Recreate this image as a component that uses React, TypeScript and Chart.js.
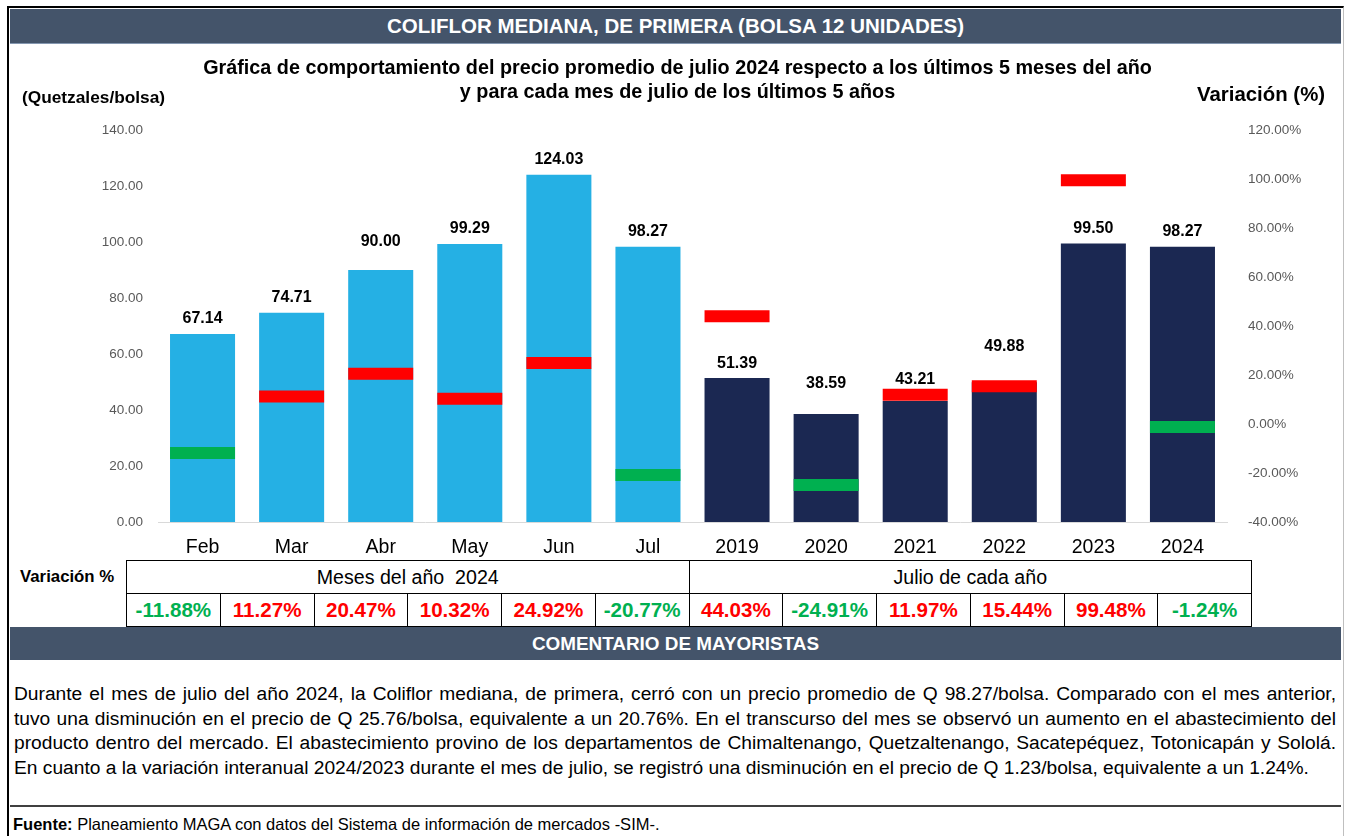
import React, { useEffect, useRef } from 'react';
import { Chart, registerables } from 'chart.js';

Chart.register(...registerables);

// ---------- DATA ----------
const categories = ['Feb', 'Mar', 'Abr', 'May', 'Jun', 'Jul', '2019', '2020', '2021', '2022', '2023', '2024'];
const prices = [67.14, 74.71, 90.0, 99.29, 124.03, 98.27, 51.39, 38.59, 43.21, 49.88, 99.5, 98.27];
const variations = [-11.88, 11.27, 20.47, 10.32, 24.92, -20.77, 44.03, -24.91, 11.97, 15.44, 99.48, -1.24];
const categoryGroup = ['mes', 'mes', 'mes', 'mes', 'mes', 'mes', 'julio', 'julio', 'julio', 'julio', 'julio', 'julio'];
const groupLabels = ['Meses del año  2024', 'Julio de cada año'];
const priceAxis = [0, 140, 20];
const variationAxis = [-40, 120, 20];

const TITLE = 'COLIFLOR MEDIANA, DE PRIMERA (BOLSA 12 UNIDADES)';
const SUBTITLE_1 = 'Gráfica de comportamiento del precio promedio de julio 2024 respecto a los últimos 5 meses del año';
const SUBTITLE_2 = 'y para cada mes de julio de los últimos 5 años';
const COMMENT_LINES = [
  'Durante el mes de julio del año 2024, la Coliflor mediana, de primera, cerró con un precio promedio de Q 98.27/bolsa. Comparado con el mes anterior,',
  'tuvo una disminución en el precio de Q 25.76/bolsa, equivalente a un 20.76%. En el transcurso del mes se observó un aumento en el abastecimiento del',
  'producto dentro del mercado. El abastecimiento provino de los departamentos de Chimaltenango, Quetzaltenango, Sacatepéquez, Totonicapán y Sololá.',
  'En cuanto a la variación interanual 2024/2023 durante el mes de julio, se registró una disminución en el precio de Q 1.23/bolsa, equivalente a un 1.24%.',
];

// ---------- STYLE ----------
const SLATE = '#44546A';
const LIGHT_BLUE = '#25B0E4';
const NAVY = '#1B2852';
const RED = '#FF0000';
const GREEN = '#00B050';
const SANS = '"Liberation Sans", Arial, sans-serif';
// extra lift (px) of a few value labels, as placed in the original chart
const LABEL_LIFT: Record<string, number> = { Abr: 13, '2020': 15, '2021': 6, '2022': 21 };

const barColor = (g: string) => (g === 'mes' ? LIGHT_BLUE : NAVY);
const varColor = (v: number) => (v < 0 ? GREEN : RED);

const valueLabels = {
  id: 'valueLabels',
  afterDatasetsDraw(chart: any) {
    const meta = chart.getDatasetMeta(0);
    const ctx = chart.ctx;
    ctx.save();
    ctx.font = 'bold 16px ' + SANS;
    ctx.fillStyle = '#000';
    ctx.textAlign = 'center';
    ctx.textBaseline = 'middle';
    meta.data.forEach((el: any, i: number) => {
      const lift = LABEL_LIFT[categories[i]] || 0;
      ctx.fillText(prices[i].toFixed(2), el.x, el.y - 15 - lift);
    });
    ctx.restore();
  },
};

function ChartCanvas() {
  const ref = useRef<HTMLCanvasElement | null>(null);
  useEffect(() => {
    if (!ref.current) return;
    const chart = new Chart(ref.current, {
      type: 'bar',
      data: {
        labels: categories,
        datasets: [
          {
            type: 'bar',
            data: prices,
            backgroundColor: categoryGroup.map(barColor),
            borderWidth: 0,
            barPercentage: 0.73,
            categoryPercentage: 1,
            yAxisID: 'y',
            order: 2,
          } as any,
          {
            type: 'line',
            data: variations,
            yAxisID: 'y1',
            showLine: false,
            clip: false,
            pointStyle: 'line',
            pointRadius: 32.5,
            pointHoverRadius: 32.5,
            pointBorderWidth: 12,
            pointHoverBorderWidth: 12,
            pointBorderColor: variations.map(varColor),
            pointBackgroundColor: variations.map(varColor),
            order: 1,
          } as any,
        ],
      },
      options: {
        animation: false,
        responsive: false,
        maintainAspectRatio: false,
        layout: { autoPadding: false, padding: { top: 86, bottom: 0, left: 0, right: 0 } },
        plugins: { legend: { display: false }, tooltip: { enabled: false }, title: { display: false } },
        scales: {
          x: {
            grid: { display: false, drawTicks: false },
            border: { display: true, color: '#D9D9D9', width: 1 },
            ticks: { color: '#000', font: { family: SANS, size: 19.5 }, padding: 14 },
            afterFit: (s: any) => { s.height = 38; },
          },
          y: {
            position: 'left',
            min: priceAxis[0],
            max: priceAxis[1],
            grid: { display: false, drawTicks: false },
            border: { display: false },
            ticks: {
              stepSize: priceAxis[2],
              color: '#595959',
              font: { family: SANS, size: 13.5 },
              padding: 15,
              callback: (v: any) => Number(v).toFixed(2),
            },
            afterFit: (s: any) => { s.width = 148; },
          },
          y1: {
            position: 'right',
            min: variationAxis[0],
            max: variationAxis[1],
            grid: { display: false, drawTicks: false },
            border: { display: false },
            ticks: {
              stepSize: variationAxis[2],
              color: '#595959',
              font: { family: SANS, size: 13.5 },
              padding: 21,
              callback: (v: any) => Number(v).toFixed(2) + '%',
            },
            afterFit: (s: any) => { s.width = 113; },
          },
        },
      },
      plugins: [valueLabels],
    } as any);
    return () => chart.destroy();
  }, []);
  return <canvas ref={ref} width={1330} height={516} style={{ position: 'absolute', left: 10, top: 44, width: 1330, height: 516 }} />;
}

const abs = (s: React.CSSProperties): React.CSSProperties => ({ position: 'absolute', ...s });

export default function App() {
  const colW = 1125 / categories.length;
  const groupCounts = groupLabels.map((_, gi) => categoryGroup.filter((g) => g === (gi === 0 ? 'mes' : 'julio')).length);
  return (
    <div style={abs({ left: 0, top: 0, width: 1345, height: 836, background: '#fff', overflow: 'hidden', fontFamily: SANS })}>
      {/* frame */}
      <div style={abs({ left: 7, top: 6, width: 1334, height: 900, borderTop: '2px solid #000', borderLeft: '2px solid #000', borderRight: '1px solid #BFBFBF' })} />
      {/* title bar */}
      <div style={abs({ left: 10, top: 9, width: 1331, height: 34, background: SLATE, borderBottom: '1px solid #8497B0', color: '#fff', fontWeight: 'bold', fontSize: 20.5, lineHeight: '34px', textAlign: 'center' })}>
        {TITLE}
      </div>
      <ChartCanvas />
      {/* subtitles */}
      <div style={abs({ left: 0, width: 1355, top: 55, textAlign: 'center', fontWeight: 'bold', fontSize: 19.8, lineHeight: '24px', color: '#000' })}>
        <div>{SUBTITLE_1}</div>
        <div>{SUBTITLE_2}</div>
      </div>
      <div style={abs({ left: 22, top: 86, fontWeight: 'bold', fontSize: 17.3, color: '#000', lineHeight: '22px' })}>(Quetzales/bolsa)</div>
      <div style={abs({ left: 1197, top: 82, fontWeight: 'bold', fontSize: 20.4, color: '#000', lineHeight: '24px' })}>Variación (%)</div>
      {/* table */}
      <div style={abs({ left: 20, top: 566, fontWeight: 'bold', fontSize: 16.8, lineHeight: '22px', color: '#000' })}>Variación %</div>
      <table style={abs({ left: 126, top: 560, width: 1126, borderCollapse: 'collapse', tableLayout: 'fixed', fontFamily: SANS })}>
        <tbody>
          <tr style={{ height: 33 }}>
            {groupLabels.map((g, gi) => (
              <td key={g} colSpan={groupCounts[gi]} style={{ border: '1px solid #000', textAlign: 'center', fontSize: 19.6, padding: 0, color: '#000', whiteSpace: 'pre' }}>
                {g}
              </td>
            ))}
          </tr>
          <tr style={{ height: 33 }}>
            {variations.map((v, i) => (
              <td key={i} style={{ width: colW, border: '1px solid #000', textAlign: 'center', fontSize: 20.6, fontWeight: 'bold', padding: 0, color: varColor(v) }}>
                {v.toFixed(2) + '%'}
              </td>
            ))}
          </tr>
        </tbody>
      </table>
      {/* comment bar */}
      <div style={abs({ left: 10, top: 627, width: 1331, height: 33, background: SLATE, color: '#fff', fontWeight: 'bold', fontSize: 18.9, lineHeight: '33px', textAlign: 'center' })}>
        COMENTARIO DE MAYORISTAS
      </div>
      <div style={abs({ left: 14, top: 682, width: 1322, fontSize: 19.2, lineHeight: '24.7px', color: '#000' })}>
        {COMMENT_LINES.map((l, i) => (
          <div key={i} style={{ textAlign: 'justify', textAlignLast: i < COMMENT_LINES.length - 1 ? 'justify' : 'left', whiteSpace: 'nowrap' }}>{l}</div>
        ))}
      </div>
      <div style={abs({ left: 10, top: 805, width: 1331, height: 0, borderTop: '2px solid #404040' })} />
      <div style={abs({ left: 13, top: 814, fontSize: 16.5, lineHeight: '20px', color: '#000' })}>
        <b>Fuente:</b> Planeamiento MAGA con datos del Sistema de información de mercados -SIM-.
      </div>
    </div>
  );
}
